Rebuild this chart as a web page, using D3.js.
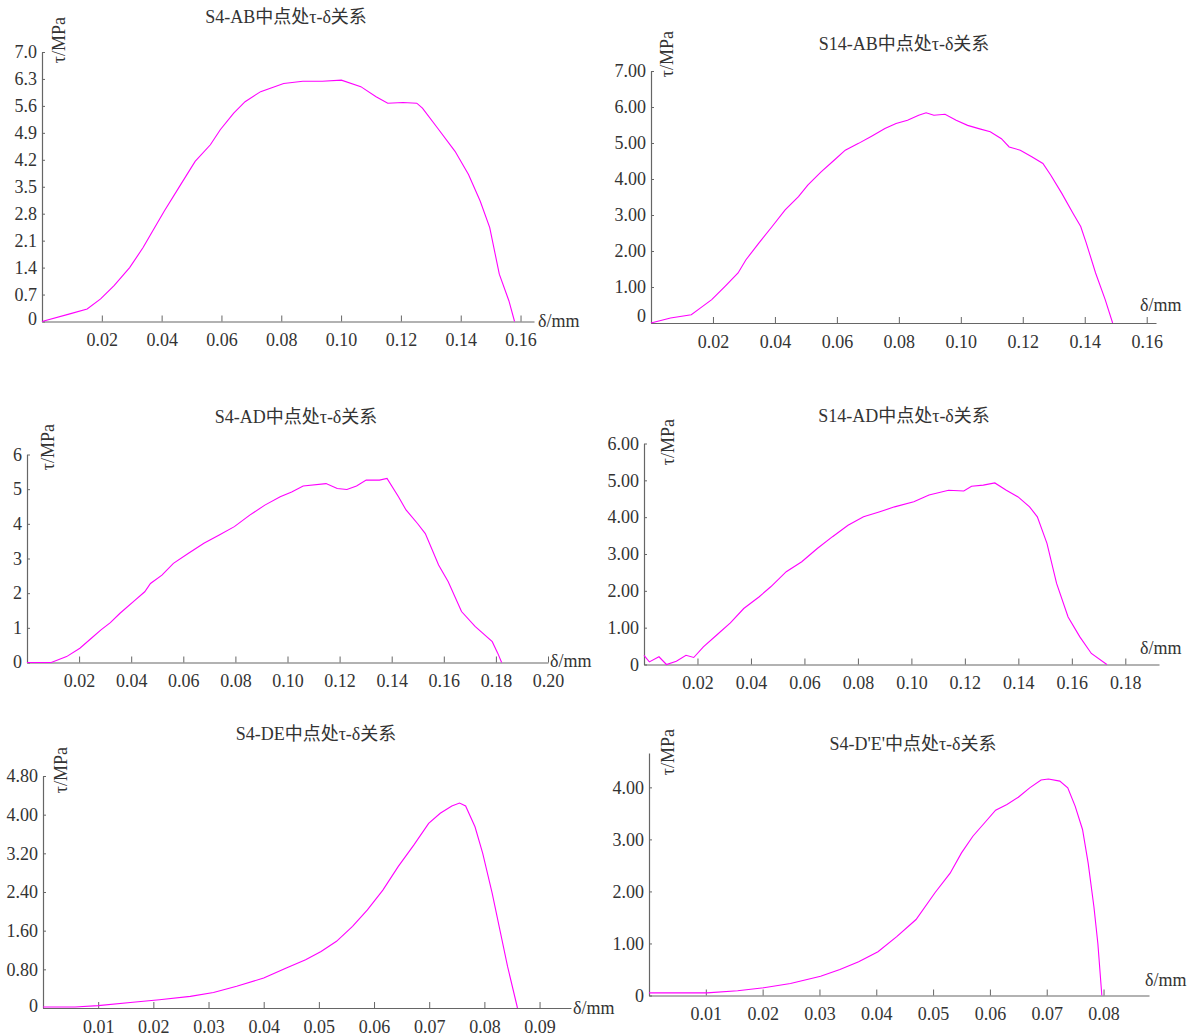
<!DOCTYPE html>
<html><head><meta charset="utf-8">
<script src="https://cdn.jsdelivr.net/npm/d3@7"></script>
<style>
html,body{margin:0;padding:0;background:#fff;}
text{font-family:"Liberation Serif","Noto Sans CJK SC",serif;fill:#333;}
</style></head>
<body>
<svg id="chart" width="1195" height="1036"></svg>
<script>
// ---- Data ----
const titles = ["S4-AB中点处τ-δ关系","S14-AB中点处τ-δ关系","S4-AD中点处τ-δ关系","S14-AD中点处τ-δ关系","S4-DE中点处τ-δ关系","S4-D'E'中点处τ-δ关系"];

const p1Delta = [0,0.0093,0.0151,0.0196,0.0241,0.0293,0.0338,0.037,0.0409,0.046,0.0512,0.0563,0.0596,0.0641,0.0679,0.0731,0.0808,0.0872,0.0937,0.1001,0.1066,0.1117,0.1156,0.1207,0.1253,0.1272,0.1323,0.1381,0.1426,0.1465,0.1497,0.1529,0.1561,0.158];
const p1Tau   = [0,0.198,0.327,0.586,0.93,1.40,1.92,2.35,2.87,3.51,4.16,4.59,4.98,5.41,5.71,5.97,6.18,6.24,6.24,6.27,6.10,5.84,5.67,5.69,5.67,5.54,5.02,4.42,3.82,3.13,2.44,1.23,0.54,0];

const p2Delta = [0,0.0063,0.013,0.016,0.0196,0.0239,0.0281,0.0306,0.0348,0.0391,0.0433,0.0476,0.0506,0.0549,0.0591,0.0627,0.067,0.0712,0.0755,0.0791,0.0828,0.0864,0.0888,0.0913,0.0949,0.0985,0.1022,0.1058,0.1095,0.1131,0.1156,0.1192,0.1229,0.1265,0.129,0.1326,0.1362,0.1387,0.1405,0.1435,0.1466,0.149];
const p2Tau   = [0,0.14,0.23,0.42,0.65,1.02,1.39,1.75,2.22,2.68,3.14,3.51,3.83,4.20,4.52,4.80,4.99,5.19,5.40,5.54,5.63,5.77,5.84,5.77,5.80,5.63,5.49,5.40,5.31,5.12,4.89,4.80,4.62,4.43,4.11,3.60,3.05,2.68,2.22,1.39,0.65,0];

const p3Delta = [0,0.0093,0.0152,0.0203,0.0247,0.0284,0.032,0.0357,0.0415,0.0452,0.0474,0.0518,0.0562,0.062,0.0679,0.0738,0.0796,0.0855,0.0913,0.0972,0.1016,0.106,0.1148,0.1191,0.1228,0.1265,0.1302,0.1353,0.1382,0.1426,0.1455,0.1499,0.1529,0.158,0.1617,0.1668,0.172,0.1786,0.1807,0.1822];
const p3Tau   = [0,0,0.17,0.41,0.70,0.94,1.15,1.42,1.80,2.04,2.28,2.52,2.86,3.15,3.44,3.68,3.92,4.25,4.54,4.78,4.92,5.09,5.16,5.02,4.99,5.09,5.26,5.26,5.31,4.78,4.40,4.01,3.72,2.81,2.33,1.47,1.04,0.60,0.27,0];

const p4Delta = [0,0.002,0.0056,0.0084,0.0121,0.0157,0.0186,0.0222,0.0272,0.0323,0.0373,0.0431,0.0474,0.0532,0.059,0.0648,0.0705,0.0763,0.0821,0.0879,0.0937,0.1009,0.1066,0.1139,0.1196,0.1225,0.1269,0.1312,0.1355,0.1399,0.1442,0.1471,0.1507,0.1543,0.1586,0.163,0.1673,0.1731];
const p4Tau   = [0.25,0.07,0.21,0,0.09,0.25,0.19,0.48,0.80,1.13,1.52,1.84,2.11,2.52,2.79,3.15,3.47,3.78,4.01,4.14,4.28,4.42,4.60,4.73,4.71,4.84,4.87,4.93,4.73,4.55,4.28,4.01,3.29,2.20,1.29,0.75,0.30,0];

const p5Delta = [0,0.0058,0.01,0.0163,0.0211,0.0267,0.0309,0.0351,0.04,0.0441,0.0476,0.0504,0.0532,0.0561,0.0588,0.0616,0.0644,0.0672,0.0699,0.072,0.0741,0.0755,0.0766,0.0783,0.0797,0.0814,0.0828,0.0842,0.086];
const p5Tau   = [0.02,0.02,0.05,0.12,0.17,0.24,0.32,0.45,0.62,0.83,1.00,1.17,1.38,1.69,2.03,2.44,2.93,3.37,3.82,4.03,4.18,4.24,4.18,3.75,3.20,2.38,1.62,0.86,0];

const p6Delta = [0,0.0069,0.0102,0.0156,0.0202,0.0249,0.0302,0.0336,0.0369,0.0403,0.0436,0.047,0.0503,0.053,0.055,0.057,0.059,0.061,0.063,0.065,0.067,0.069,0.0703,0.0723,0.0737,0.075,0.0763,0.0773,0.0783,0.079,0.0797];
const p6Tau   = [0.05,0.05,0.05,0.09,0.15,0.23,0.37,0.50,0.65,0.84,1.13,1.46,1.97,2.35,2.74,3.06,3.31,3.56,3.67,3.81,3.99,4.14,4.16,4.12,3.99,3.64,3.19,2.54,1.71,1.00,0];

const p1XTicks = [0.02,0.04,0.06,0.08,0.10,0.12,0.14,0.16];
const p1YTicks = [0,0.7,1.4,2.1,2.8,3.5,4.2,4.9,5.6,6.3,7.0];
const p1YLabels = ["0","0.7","1.4","2.1","2.8","3.5","4.2","4.9","5.6","6.3","7.0"];
const p2XTicks = [0.02,0.04,0.06,0.08,0.10,0.12,0.14,0.16];
const p2YTicks = [0,1,2,3,4,5,6,7];
const p2YLabels = ["0","1.00","2.00","3.00","4.00","5.00","6.00","7.00"];
const p3XTicks = [0.02,0.04,0.06,0.08,0.10,0.12,0.14,0.16,0.18,0.20];
const p3YTicks = [0,1,2,3,4,5,6];
const p3YLabels = ["0","1","2","3","4","5","6"];
const p4XTicks = [0.02,0.04,0.06,0.08,0.10,0.12,0.14,0.16,0.18];
const p4YTicks = [0,1,2,3,4,5,6];
const p4YLabels = ["0","1.00","2.00","3.00","4.00","5.00","6.00"];
const p5XTicks = [0.01,0.02,0.03,0.04,0.05,0.06,0.07,0.08,0.09];
const p5YTicks = [0,0.8,1.6,2.4,3.2,4.0,4.8];
const p5YLabels = ["0","0.80","1.60","2.40","3.20","4.00","4.80"];
const p6XTicks = [0.01,0.02,0.03,0.04,0.05,0.06,0.07,0.08];
const p6YTicks = [0,1,2,3,4];
const p6YLabels = ["0","1.00","2.00","3.00","4.00"];

// ---- Layout ----
const panels = [
  {title:titles[0], xs:p1Delta, ys:p1Tau, xt:p1XTicks, yt:p1YTicks, yl:p1YLabels, xd:[0,0.1645], yd:[0,7],
   x0:42, x1:534, y0:321.5, y1:52, tx:286, ty:19, lx:61, ly:40, ax:538, ay:323, zdy:-3},
  {title:titles[1], xs:p2Delta, ys:p2Tau, xt:p2XTicks, yt:p2YTicks, yl:p2YLabels, xd:[0,0.163], yd:[0,7],
   x0:651, x1:1156, y0:323, y1:71, tx:904, ty:46, lx:669, ly:54, ax:1140, ay:307, zdy:-7},
  {title:titles[2], xs:p3Delta, ys:p3Tau, xt:p3XTicks, yt:p3YTicks, yl:p3YLabels, xd:[0,0.2], yd:[0,6],
   x0:27, x1:548, y0:662.5, y1:454.5, tx:296, ty:419, lx:50, ly:447, ax:550, ay:663, zdy:-1},
  {title:titles[3], xs:p4Delta, ys:p4Tau, xt:p4XTicks, yt:p4YTicks, yl:p4YLabels, xd:[0,0.1926], yd:[0,6],
   x0:644, x1:1159, y0:664.5, y1:443.5, tx:904, ty:418, lx:670, ly:442, ax:1140, ay:650, zdy:0},
  {title:titles[4], xs:p5Delta, ys:p5Tau, xt:p5XTicks, yt:p5YTicks, yl:p5YLabels, xd:[0,0.0957], yd:[0,4.8],
   x0:43, x1:571, y0:1008, y1:776, tx:316, ty:736, lx:63, ly:770, ax:573, ay:1010, zdy:-2},
  {title:titles[5], xs:p6Delta, ys:p6Tau, xt:p6XTicks, yt:p6YTicks, yl:p6YLabels, xd:[0,0.088], yd:[0,4.66],
   x0:649, x1:1149, y0:995.5, y1:753, tx:913, ty:746, lx:670, ly:752, ax:1145, ay:982, zdy:0}
];

const svg = d3.select("#chart");
const FS = 18;

panels.forEach(p => {
  const x = d3.scaleLinear().domain(p.xd).range([p.x0, p.x1]);
  const y = d3.scaleLinear().domain(p.yd).range([p.y0, p.y1]);
  const g = svg.append("g");

  // x axis
  const xa = g.append("g").attr("transform", `translate(0,${p.y0})`)
    .call(d3.axisBottom(x).tickValues(p.xt).tickFormat(d3.format(".2f")).tickSize(-6).tickSizeOuter(0).tickPadding(12));
  xa.select(".domain").attr("stroke", "#666").attr("stroke-width", 1.2);
  xa.selectAll(".tick line").attr("stroke", "#666");
  xa.selectAll(".tick text").style("font-size", FS + "px").attr("fill", "#333");

  // y axis
  const ya = g.append("g").attr("transform", `translate(${p.x0},0)`)
    .call(d3.axisLeft(y).tickValues(p.yt).tickFormat((d, i) => p.yl[i]).tickSize(-3).tickSizeOuter(0).tickPadding(5));
  ya.select(".domain").attr("stroke", "#666").attr("stroke-width", 1.2);
  ya.selectAll(".tick line").attr("stroke", "#666");
  ya.selectAll(".tick text").style("font-size", FS + "px").attr("fill", "#333")
    .attr("y", (d, i) => i === 0 ? p.zdy : 0);

  // curve
  const pts = p.xs.map((v, i) => [v, p.ys[i]]);
  g.append("path").datum(pts)
    .attr("fill", "none").attr("stroke", "#ff00ff").attr("stroke-width", 1.1)
    .attr("d", d3.line().x(d => x(d[0])).y(d => y(d[1])));

  // title
  g.append("text").attr("x", p.tx).attr("y", p.ty).attr("text-anchor", "middle")
    .attr("dominant-baseline", "middle").style("font-size", FS + "px").text(p.title);
  // y label
  g.append("text").attr("transform", `translate(${p.lx},${p.ly}) rotate(-90)`)
    .attr("text-anchor", "middle").attr("dominant-baseline", "middle")
    .style("font-size", FS + "px").text("τ/MPa");
  // x label
  g.append("text").attr("x", p.ax).attr("y", p.ay).attr("dominant-baseline", "middle")
    .style("font-size", FS + "px").text("δ/mm");
});
</script>
</body></html>
